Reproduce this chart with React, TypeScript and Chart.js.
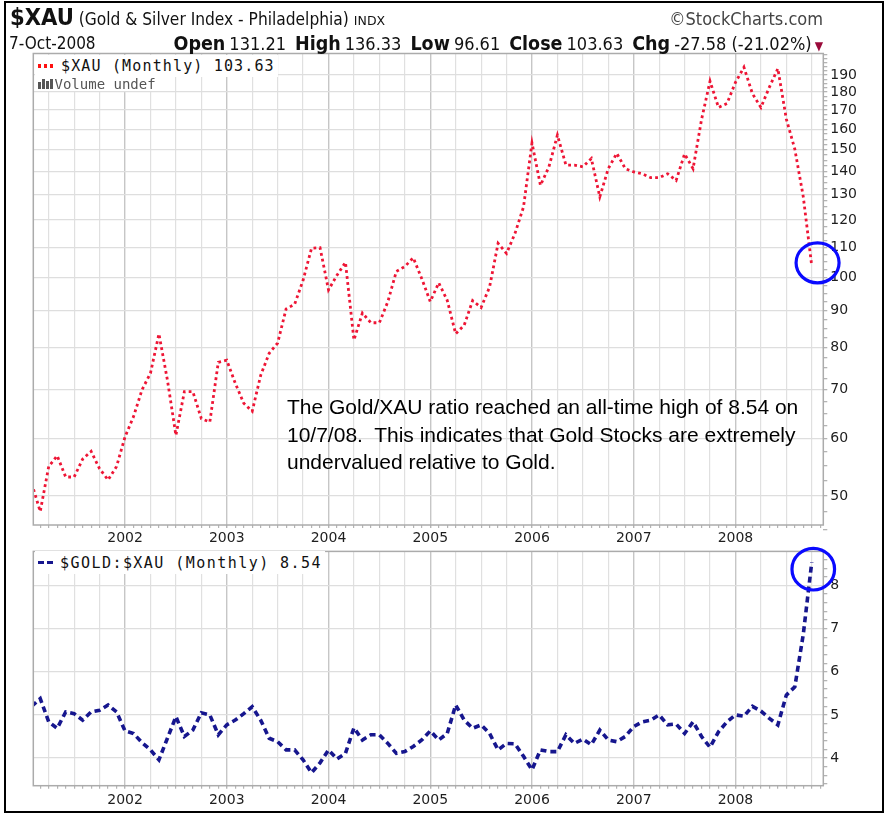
import React, { useEffect, useRef } from 'react';
import { Chart, registerables } from 'chart.js';

Chart.register(...registerables);

// month index: 0 = Jan 2001; first value is Feb 2001
const FIRST_MONTH = 1;
const yearLabels = ['2002', '2003', '2004', '2005', '2006', '2007', '2008'];
const xauTicks = [50, 60, 70, 80, 90, 100, 110, 120, 130, 140, 150, 160, 170, 180, 190];
const ratioTicks = [4, 5, 6, 7, 8];

const xauMonthly = [
  52, 47.6, 54.9, 56.8, 53.1, 53.1, 56.2, 57.6, 54.5, 52.6, 54.9,
  60.3, 64.3, 70.0, 73.8, 83.6, 72.2, 60.6, 69.6, 69.6, 63.9, 63.2, 76.4,
  76.9, 71.5, 67.1, 65.4, 73.3, 78.6, 81.2, 90.5, 91.8, 99.1, 109.7, 109.9,
  96.1, 100.7, 104.9, 82.0, 89.3, 86.6, 86.6, 92.6, 101.9, 103.5, 106.4, 99.6,
  92.6, 98.3, 93.0, 83.6, 85.9, 92.9, 90.9, 97.0, 111.4, 107.9, 115.0, 125.0,
  153.1, 133.9, 142.0, 157.0, 142.8, 142.8, 142.0, 145.8, 129.1, 141.2, 148.2, 141.2,
  139.7, 138.9, 137.2, 137.2, 138.9, 136.0, 147.9, 141.2, 165.0, 186.3, 171.4, 173.6,
  185.6, 194.7, 179.1, 171.4, 182.8, 193.9, 165.2, 150.2, 129.1, 103.63,
];

const goldXauRatio = [
  5.2, 5.38, 4.84, 4.69, 5.07, 5.03, 4.88, 5.07, 5.11, 5.23, 5.07,
  4.63, 4.57, 4.36, 4.19, 3.96, 4.46, 4.96, 4.5, 4.65, 5.05, 5.0, 4.54,
  4.77, 4.88, 5.03, 5.19, 4.88, 4.46, 4.38, 4.19, 4.19, 3.96, 3.66, 3.89,
  4.19, 3.98, 4.11, 4.7, 4.42, 4.54, 4.54, 4.34, 4.11, 4.15, 4.27, 4.42,
  4.63, 4.42, 4.57, 5.23, 4.88, 4.69, 4.77, 4.57, 4.19, 4.34, 4.33, 4.04,
  3.73, 4.19, 4.15, 4.15, 4.54, 4.34, 4.44, 4.31, 4.65, 4.42, 4.38, 4.5,
  4.73, 4.84, 4.88, 5.0, 4.77, 4.79, 4.57, 4.84, 4.5, 4.25, 4.61, 4.84,
  5.0, 4.97, 5.2, 5.09, 4.92, 4.77, 5.46, 5.65, 6.87, 8.54,
];

const X_MIN = 1.18;
const X_MAX = 94.36;

const NARROW = "'Liberation Sans Narrow', 'Arial Narrow', 'DejaVu Sans Condensed', 'Liberation Sans', Arial, sans-serif";
const AXIS_FONT = { family: "'DejaVu Sans', Verdana, sans-serif", size: 14 };
const MONO = "'DejaVu Sans Mono', monospace";

const monthTicks = () => {
  const t: { value: number }[] = [];
  for (let m = Math.ceil(X_MIN); m <= Math.floor(X_MAX); m++) t.push({ value: m });
  return t;
};

const xGridColor = (ctx: any) => {
  const v = ctx.tick ? ctx.tick.value : -1;
  if (v % 12 === 0) return '#c6c6c6';
  if (v % 3 === 0) return '#e0e0e0';
  return 'rgba(0,0,0,0)';
};

const framePlugin = {
  id: 'frame',
  afterDraw(chart: any) {
    const { ctx, chartArea: a } = chart;
    ctx.save();
    ctx.strokeStyle = '#ababab';
    ctx.lineWidth = 1.5;
    ctx.strokeRect(a.left, a.top, a.right - a.left, a.bottom - a.top);
    ctx.restore();
  },
};

const circlePlugin = (dx: number, dy: number, rx: number, ry: number) => ({
  id: 'circleMark',
  afterDraw(chart: any) {
    const data = chart.data.datasets[0].data;
    const last = data[data.length - 1];
    const x = chart.scales.x.getPixelForValue(last.x) + dx;
    const y = chart.scales.y.getPixelForValue(last.y) + dy;
    const ctx = chart.ctx;
    ctx.save();
    ctx.strokeStyle = '#0a0aff';
    ctx.lineWidth = 3.2;
    ctx.beginPath();
    ctx.ellipse(x, y, rx, ry, 0, 0, Math.PI * 2);
    ctx.stroke();
    ctx.restore();
  },
});

const xScale = (height: number, padding: number) => ({
  type: 'linear' as const,
  min: X_MIN,
  max: X_MAX,
  afterBuildTicks: (scale: any) => {
    scale.ticks = monthTicks();
  },
  afterFit: (scale: any) => {
    scale.height = height;
  },
  border: { display: false },
  grid: {
    color: xGridColor,
    lineWidth: (ctx: any) => (ctx.tick && ctx.tick.value % 12 === 0 ? 1.4 : 1.2),
    tickColor: '#b4b4b4',
    tickLength: 3,
  },
  ticks: {
    autoSkip: false,
    maxRotation: 0,
    minRotation: 0,
    padding,
    font: AXIS_FONT,
    color: '#1e1e1e',
    callback: (v: any) => (v % 12 === 0 ? yearLabels[v / 12 - 1] ?? '' : ''),
  },
});

export default function App() {
  const upperRef = useRef<HTMLCanvasElement>(null);
  const lowerRef = useRef<HTMLCanvasElement>(null);

  useEffect(() => {
    const upperMinor: number[] = [];
    for (let v = 45; v <= 202.5; v += 2.5) if (!xauTicks.includes(v)) upperMinor.push(v);
    const upperAll = [...xauTicks, ...upperMinor].sort((a, b) => a - b);

    const lowerAll: number[] = [];
    for (let k = 17; k <= 43; k++) lowerAll.push(Math.round(k * 2) / 10);

    const up = new Chart(upperRef.current as HTMLCanvasElement, {
      type: 'line',
      data: {
        datasets: [
          {
            data: xauMonthly.map((v, i) => ({ x: FIRST_MONTH + i, y: v })),
            borderColor: '#ee1535',
            borderWidth: 2.8,
            borderDash: [2.8, 3.2],
            pointRadius: 0,
            tension: 0,
            fill: false,
          },
        ],
      },
      options: {
        animation: false,
        responsive: false,
        devicePixelRatio: 1,
        layout: { padding: { left: 33.3, top: 53.5, right: 13.7, bottom: 0 } },
        plugins: { legend: { display: false }, tooltip: { enabled: false } },
        scales: {
          x: xScale(25, 2),
          y: {
            type: 'logarithmic',
            position: 'right',
            min: 45.6,
            max: 203.4,
            afterBuildTicks: (scale: any) => {
              scale.ticks = upperAll.map((v) => ({ value: v }));
            },
            afterFit: (scale: any) => {
              scale.width = 50;
            },
            border: { display: false },
            grid: {
              color: (ctx: any) => (ctx.tick && xauTicks.includes(ctx.tick.value) ? '#dedede' : 'rgba(0,0,0,0)'),
              lineWidth: 1.3,
              tickColor: '#b4b4b4',
              tickLength: 4,
            },
            ticks: {
              padding: 3,
              font: AXIS_FONT,
              color: '#1e1e1e',
              autoSkip: false,
              callback: (v: any) => (xauTicks.includes(v) ? String(v) : ''),
            },
          },
        },
      },
      plugins: [framePlugin, circlePlugin(5.8, -3.3, 21.5, 20)],
    });

    const lo = new Chart(lowerRef.current as HTMLCanvasElement, {
      type: 'line',
      data: {
        datasets: [
          {
            data: goldXauRatio.map((v, i) => ({ x: FIRST_MONTH + i, y: v })),
            borderColor: '#16168e',
            borderWidth: 3.6,
            borderDash: [6, 4],
            pointRadius: 0,
            tension: 0,
            fill: false,
          },
        ],
      },
      options: {
        animation: false,
        responsive: false,
        devicePixelRatio: 1,
        layout: { padding: { left: 33.3, top: 9.5, right: 13.7, bottom: 0 } },
        plugins: { legend: { display: false }, tooltip: { enabled: false } },
        scales: {
          x: xScale(29.3, 3.3),
          y: {
            type: 'linear',
            position: 'right',
            min: 3.36,
            max: 8.79,
            afterBuildTicks: (scale: any) => {
              scale.ticks = lowerAll.map((v) => ({ value: v }));
            },
            afterFit: (scale: any) => {
              scale.width = 50;
            },
            border: { display: false },
            grid: {
              color: (ctx: any) => (ctx.tick && ratioTicks.includes(ctx.tick.value) ? '#dedede' : 'rgba(0,0,0,0)'),
              lineWidth: 1.3,
              tickColor: '#b4b4b4',
              tickLength: 4,
            },
            ticks: {
              padding: 3,
              font: AXIS_FONT,
              color: '#1e1e1e',
              autoSkip: false,
              callback: (v: any) => (ratioTicks.includes(v) ? String(v) : ''),
            },
          },
        },
      },
      plugins: [framePlugin, circlePlugin(1.5, 7, 21.3, 20.8)],
    });

    return () => {
      up.destroy();
      lo.destroy();
    };
  }, []);

  const abs = (s: React.CSSProperties): React.CSSProperties => ({ position: 'absolute', whiteSpace: 'nowrap', ...s });

  return (
    <div style={{ position: 'absolute', left: 0, top: 0, width: 887, height: 815, background: '#fff', overflow: 'hidden' }}>
      <canvas ref={upperRef} width={887} height={550} style={abs({ left: 0, top: 0, width: 887, height: 550, display: 'block' })} />
      <canvas ref={lowerRef} width={887} height={275} style={abs({ left: 0, top: 540, width: 887, height: 275, display: 'block' })} />

      {/* outer black frame */}
      <div style={abs({ left: 4, top: 1, width: 880, height: 812, border: '2px solid #000', boxSizing: 'border-box' })} />

      {/* header row 1 */}
      <div style={abs({ left: 10, top: 3, display: 'flex', alignItems: 'baseline', color: '#111' })}>
        <span style={{ fontFamily: NARROW, fontWeight: 'bold', fontSize: 23.5 }}>$XAU</span>
        <span style={{ fontFamily: NARROW, fontSize: 17.2, marginLeft: 5 }}>(Gold &amp; Silver Index - Philadelphia)</span>
        <span style={{ fontFamily: "'DejaVu Sans', sans-serif", fontSize: 12.5, marginLeft: 5 }}>INDX</span>
      </div>
      <div style={abs({ right: 64, top: 8, fontFamily: NARROW, fontSize: 18, color: '#444' })}>©StockCharts.com</div>

      {/* header row 2 */}
      <div style={abs({ left: 9, top: 33, fontFamily: NARROW, fontSize: 17, color: '#111' })}>7-Oct-2008</div>
      <div style={abs({ right: 64, top: 32, display: 'flex', alignItems: 'baseline', fontFamily: NARROW, color: '#111' })}>
        <b style={{ fontSize: 19.5 }}>Open</b>
        <span style={{ fontSize: 18, marginLeft: 4 }}>131.21</span>
        <b style={{ fontSize: 19.5, marginLeft: 9 }}>High</b>
        <span style={{ fontSize: 18, marginLeft: 4 }}>136.33</span>
        <b style={{ fontSize: 19.5, marginLeft: 9 }}>Low</b>
        <span style={{ fontSize: 18, marginLeft: 4 }}>96.61</span>
        <b style={{ fontSize: 19.5, marginLeft: 9 }}>Close</b>
        <span style={{ fontSize: 18, marginLeft: 4 }}>103.63</span>
        <b style={{ fontSize: 19.5, marginLeft: 9 }}>Chg</b>
        <span style={{ fontSize: 18, marginLeft: 4 }}>-27.58 (-21.02%)</span>
        <span style={{ fontSize: 12, marginLeft: 3, color: '#9a0a3a' }}>▼</span>
      </div>

      {/* upper legend */}
      <div style={abs({ left: 34.5, top: 55, height: 22, paddingRight: 3, background: '#fff', display: 'flex', alignItems: 'center' })}>
        <span style={{ display: 'inline-block', width: 3.5, height: 3.5, background: '#ff1010', marginLeft: 3 }} />
        <span style={{ display: 'inline-block', width: 3.5, height: 3.5, background: '#ff1010', marginLeft: 2.5 }} />
        <span style={{ display: 'inline-block', width: 3.5, height: 3.5, background: '#ff1010', marginLeft: 2.5 }} />
        <span style={{ fontFamily: MONO, fontSize: 15, letterSpacing: 1.15, color: '#111', marginLeft: 8 }}>$XAU (Monthly) 103.63</span>
      </div>
      <div style={abs({ left: 34.5, top: 77, height: 14, paddingRight: 3, background: '#fff', display: 'flex', alignItems: 'center' })}>
        <span style={{ display: 'inline-flex', alignItems: 'flex-end', height: 10, marginLeft: 3 }}>
          <span style={{ display: 'inline-block', width: 3, height: 7, background: '#555' }} />
          <span style={{ display: 'inline-block', width: 3, height: 10, background: '#555', marginLeft: 1 }} />
          <span style={{ display: 'inline-block', width: 3, height: 8, background: '#555', marginLeft: 1 }} />
          <span style={{ display: 'inline-block', width: 3, height: 10, background: '#555', marginLeft: 1 }} />
        </span>
        <span style={{ fontFamily: MONO, fontSize: 14, color: '#555', marginLeft: 2 }}>Volume undef</span>
      </div>

      {/* lower legend */}
      <div style={abs({ left: 34.5, top: 551, height: 23, paddingRight: 3, background: '#fff', display: 'flex', alignItems: 'center' })}>
        <span style={{ display: 'inline-block', width: 6, height: 3.5, background: '#16168e', marginLeft: 3 }} />
        <span style={{ display: 'inline-block', width: 6, height: 3.5, background: '#16168e', marginLeft: 3 }} />
        <span style={{ fontFamily: MONO, fontSize: 15, letterSpacing: 1.45, color: '#111', marginLeft: 7.5 }}>$GOLD:$XAU (Monthly) 8.54</span>
      </div>

      {/* annotation */}
      <div
        style={abs({
          left: 287,
          top: 393,
          fontFamily: "'Liberation Sans', Arial, sans-serif",
          fontSize: 21,
          lineHeight: '27.5px',
          color: '#000',
          whiteSpace: 'pre',
        })}
      >
        {'The Gold/XAU ratio reached an all-time high of 8.54 on\n10/7/08.  This indicates that Gold Stocks are extremely\nundervalued relative to Gold.'}
      </div>
    </div>
  );
}
